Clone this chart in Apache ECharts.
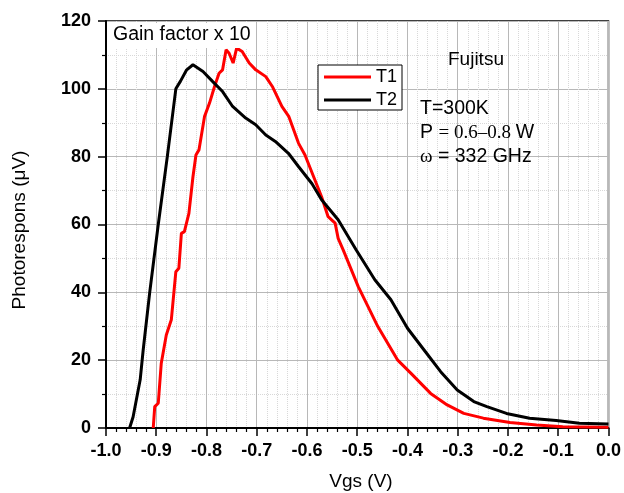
<!DOCTYPE html>
<html><head><meta charset="utf-8">
<script src="https://cdn.jsdelivr.net/npm/echarts@6/dist/echarts.min.js"></script>
<style>html,body{margin:0;padding:0;background:#fff}#c{width:624px;height:493px}</style>
</head><body><div id="c"></div>
<script>
// T1 (red)
var t1V = [-0.906,-0.903,-0.896,-0.890,-0.880,-0.870,-0.867,-0.861,-0.855,-0.850,-0.844,-0.835,-0.827,-0.821,-0.815,-0.804,-0.794,-0.784,-0.775,-0.768,-0.761,-0.755,-0.747,-0.740,-0.729,-0.715,-0.702,-0.682,-0.669,-0.650,-0.636,-0.617,-0.604,-0.571,-0.558,-0.544,-0.538,-0.528,-0.498,-0.459,-0.420,-0.393,-0.354,-0.321,-0.288,-0.249,-0.196,-0.143,-0.091,0.0];
var t1P = [0,6.3,7.3,19.1,27.4,31.9,32.4,46.1,47.1,57.4,57.9,63.3,74.0,80.5,82.0,91.8,95.8,100.7,104.6,105.6,111.5,110.5,107.6,112.0,111.0,107.6,105.6,103.6,100.7,94.8,91.8,84.0,80.5,68.2,62.3,60.4,55.9,52.5,41.7,29.9,20.1,16.1,10.2,6.8,4.3,2.9,1.6,0.9,0.4,0.2];
// T2 (black)
var t2V = [-0.953,-0.946,-0.932,-0.926,-0.913,-0.896,-0.878,-0.861,-0.852,-0.840,-0.827,-0.807,-0.788,-0.768,-0.748,-0.722,-0.702,-0.682,-0.663,-0.637,-0.617,-0.590,-0.571,-0.538,-0.502,-0.465,-0.433,-0.400,-0.367,-0.334,-0.301,-0.268,-0.242,-0.203,-0.157,-0.104,-0.058,0.0];
var t2P = [0,3.3,14.2,23.0,40,60,80,100,102.2,105.5,107.1,105.1,102.2,99.2,94.8,91.4,89.4,86.4,84.5,81.0,77.1,72.0,67.3,61.4,52.5,43.7,37.8,29.4,23.0,16.6,11.2,7.8,6.3,4.3,2.9,2.2,1.4,1.2];
var seriesNames = ['T1','T2'];

function pairs(xs, ys){ return xs.map(function(x,i){ return [x, ys[i]]; }); }

var FONT = '"Liberation Sans", Arial, sans-serif';
var SERIF = '"Liberation Serif","Times New Roman",serif';
var chart = echarts.init(document.getElementById('c'), null, {renderer:'canvas'});
chart.setOption({
  animation:false,
  backgroundColor:'#fff',
  grid:{left:106, right:12, top:21, bottom:65, show:true, borderColor:'#000', borderWidth:1.5, backgroundColor:'transparent'},
  legend:{
    data:seriesNames, orient:'vertical', left:318, top:65, icon:'rect',
    backgroundColor:'#fff', borderColor:'#000', borderWidth:1, borderRadius:0,
    padding:[3,5,1,6], itemGap:5, itemWidth:47, itemHeight:3,
    textStyle:{fontFamily:FONT, fontSize:18, color:'#000'}
  },
  xAxis:{
    type:'value', min:-1, max:0, interval:0.1,
    axisLine:{show:true, onZero:false, lineStyle:{color:'#000', width:2}},
    axisTick:{show:true, inside:false, length:8, lineStyle:{color:'#000', width:1.5}},
    minorTick:{show:true, splitNumber:5, length:4, lineStyle:{color:'#000', width:1.2}},
    axisLabel:{fontFamily:FONT, fontSize:18, fontWeight:'bold', color:'#000', margin:14,
      formatter:function(v){ return v.toFixed(1); }},
    splitLine:{show:true, lineStyle:{color:'#b8b8b8', width:1}},
    minorSplitLine:{show:true, lineStyle:{color:'#d8d8d8', width:1, type:'dotted'}}
  },
  yAxis:{
    type:'value', min:0, max:120, interval:20,
    axisLine:{show:true, onZero:false, lineStyle:{color:'#000', width:2}},
    axisTick:{show:true, inside:false, length:8, lineStyle:{color:'#000', width:1.5}},
    minorTick:{show:true, splitNumber:2, length:4, lineStyle:{color:'#000', width:1.2}},
    axisLabel:{fontFamily:FONT, fontSize:18, fontWeight:'bold', color:'#000', margin:15},
    splitLine:{show:true, lineStyle:{color:'#b8b8b8', width:1}},
    minorSplitLine:{show:true, lineStyle:{color:'#d8d8d8', width:1, type:'dotted'}}
  },
  series:[
    {name:seriesNames[0], type:'line', data:pairs(t1V,t1P), symbol:'none', showSymbol:false,
     lineStyle:{color:'#ff0000', width:3}, itemStyle:{color:'#ff0000'}, z:3},
    {name:seriesNames[1], type:'line', data:pairs(t2V,t2P), symbol:'none', showSymbol:false,
     lineStyle:{color:'#000', width:3}, itemStyle:{color:'#000'}, z:4}
  ],
  graphic:[
    {type:'rect', left:108, top:23, shape:{width:148, height:25}, style:{fill:'#fff'}, z:10},
    {type:'text', x:113, y:35, z:11, style:{text:'Gain factor x 10', font:'19.5px '+FONT, fill:'#000', verticalAlign:'middle'}},
    {type:'text', x:448, y:60, z:11, style:{text:'Fujitsu', font:'19px '+FONT, fill:'#000', verticalAlign:'middle'}},
    {type:'text', x:420, y:109, z:11, style:{text:'T=300K', font:'19.5px '+FONT, fill:'#000', verticalAlign:'middle'}},
    {type:'text', x:420, y:133, z:11, style:{verticalAlign:'middle',
      text:'{a|P }{b|= 0.6\u20130.8 }{a|W}',
      rich:{a:{fontFamily:FONT, fontSize:19.5, fill:'#000'}, b:{fontFamily:SERIF, fontSize:19, fill:'#000'}}}},
    {type:'text', x:420, y:157, z:11, style:{verticalAlign:'middle',
      text:'{b|\u03c9}{a| = 332 GHz}',
      rich:{a:{fontFamily:FONT, fontSize:19.5, fill:'#000'}, b:{fontFamily:SERIF, fontSize:19, fill:'#000'}}}},
    {type:'text', x:20, y:230, rotation:Math.PI/2, z:11, style:{text:'Photorespons (\u03bcV)', font:'19px '+FONT, fill:'#000', align:'center', verticalAlign:'middle'}},
    {type:'text', x:361, y:482, z:11, style:{text:'Vgs (V)', font:'19px '+FONT, fill:'#000', align:'center', verticalAlign:'middle'}}
  ]
});
</script></body></html>
